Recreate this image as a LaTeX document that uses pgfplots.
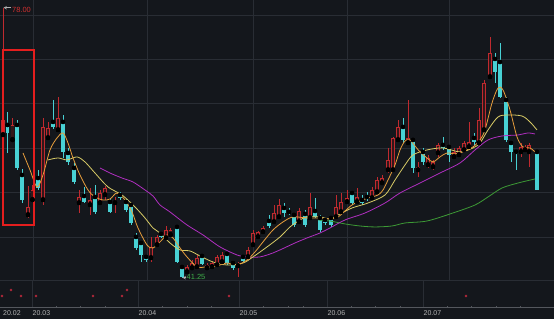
\documentclass[border=0pt]{standalone}
\usepackage{pgfplots}
\usepackage{pgfplotstable}
\pgfplotsset{compat=1.18}
\usepackage{fontspec}
\setmainfont{Liberation Sans}
\definecolor{bg}{HTML}{14171C}
\definecolor{gridc}{HTML}{292D34}
\definecolor{upc}{HTML}{C02A2F}
\definecolor{upin}{HTML}{331719}
\definecolor{dnc}{HTML}{48D1D4}
\definecolor{ma5}{HTML}{E89E3C}
\definecolor{ma10}{HTML}{D8CB66}
\definecolor{ma20}{HTML}{B02FC0}
\definecolor{ma60}{HTML}{3D9A35}
\definecolor{hilab}{HTML}{D23030}
\definecolor{lolab}{HTML}{3FB04A}
\definecolor{datec}{HTML}{B4B4B4}
\definecolor{boxred}{HTML}{E41E1E}
\definecolor{dotred}{HTML}{B0283A}

% x = position on the time axis, O H L C = open high low close
\pgfplotstableread{
x O H L C
3 60.72 78.00 60.04 62.76
12.5 60.04 63.03 59.77 62.08
28 49.83 53.77 49.42 50.92
32.5 51.87 53.91 51.60 53.23
43 51.87 63.03 51.19 61.81
48 60.31 62.49 60.04 61.67
58 61.40 65.89 61.13 63.03
79 51.46 53.23 50.10 52.28
90 51.19 53.50 49.83 51.87
100 51.46 53.23 51.19 52.82
105 52.55 53.77 51.87 53.50
115 51.46 52.28 50.10 51.73
151 43.98 46.84 43.43 45.48
157 45.75 47.11 45.48 46.84
166 46.70 48.33 46.43 47.79
170.5 47.11 48.06 46.84 47.79
187 42.07 43.02 41.80 42.75
192 42.61 43.70 42.34 43.29
197 42.75 44.39 42.61 43.98
207 42.61 43.29 42.34 43.02
212 42.75 43.57 42.61 43.29
217 43.02 44.39 42.88 44.12
222 43.43 44.80 43.29 44.39
238 42.88 43.43 41.39 43.16
248 44.12 45.48 43.70 45.07
253 45.75 47.79 45.48 47.38
258 46.84 47.65 46.70 47.52
263 47.52 48.33 47.25 48.06
274 48.88 51.19 48.74 50.10
279 49.56 52.00 49.42 51.19
299 48.88 50.78 48.74 50.37
310 49.42 52.82 49.29 50.92
336 49.56 52.55 49.42 50.92
341 50.24 52.82 50.10 51.60
347 51.60 53.23 51.46 52.14
357 51.60 53.50 51.46 52.28
372 52.14 53.64 51.87 53.23
377 52.96 55.00 52.82 54.59
382 54.18 55.27 53.91 54.86
388 55.95 58.95 55.54 57.32
393 55.95 60.45 55.68 60.31
398 60.04 62.76 59.77 61.81
408 59.63 65.48 59.36 60.31
418 55.95 57.05 55.00 56.37
428 56.64 58.00 56.23 57.59
433 56.37 57.32 55.95 57.05
438 58.27 59.63 57.73 59.36
454 57.73 58.95 57.59 58.41
459 58.00 59.22 57.73 58.95
464 58.68 59.90 58.41 59.63
469 59.09 62.49 58.95 59.77
479 59.63 64.39 59.36 62.76
484 61.40 68.20 61.13 67.79
490 68.61 74.06 68.47 71.88
521 58.41 59.63 57.73 59.09
525 58.68 59.36 58.41 59.09
529 58.41 59.63 56.37 59.36
}\upcandles

\pgfplotstableread{
x O H L C
7.5 62.08 63.85 58.27 60.99
17 62.08 62.76 55.95 56.23
22 55.27 56.10 51.46 51.87
38 54.86 55.95 53.23 53.50
53 62.49 65.48 61.54 61.81
63 62.49 63.44 57.59 58.41
68 58.27 58.95 56.64 57.05
74 56.23 56.91 54.05 54.32
84 52.41 53.64 51.46 51.60
95 52.28 53.91 49.97 50.24
110 51.60 52.14 50.10 50.24
120 52.55 52.96 51.87 52.14
126 51.60 52.00 50.24 50.51
131 51.19 51.46 48.47 48.74
136 46.84 47.38 45.07 45.34
141 46.02 46.16 43.43 44.39
146 44.12 44.39 43.43 43.70
161 47.25 47.38 46.70 46.84
177 48.20 48.33 43.29 43.43
182 42.75 43.02 41.25 41.39
202 44.25 44.53 43.02 43.16
227 44.53 44.80 43.02 43.29
233 43.29 43.43 42.34 42.61
243 44.12 44.25 43.43 43.57
269 49.01 49.83 48.06 48.33
284 50.78 51.46 49.56 50.10
289 50.24 50.78 49.83 50.10
294 49.83 50.10 48.20 48.47
305 49.97 50.51 48.20 48.47
315 50.37 52.14 49.42 49.56
320 49.42 49.83 47.52 47.79
325 49.15 49.42 48.47 48.74
331 49.42 49.56 48.20 48.47
352 52.82 52.96 51.19 51.46
362 51.87 52.55 51.19 51.46
367 52.28 52.96 51.73 52.00
403 61.81 63.03 59.63 60.04
413 60.04 60.31 55.54 56.23
423 58.41 58.95 56.64 57.05
443 59.36 60.45 58.68 58.95
449 59.09 59.36 57.05 58.00
474 60.31 60.99 59.36 59.77
495 71.06 71.88 67.79 69.29
500 70.65 73.24 65.75 65.89
506 65.48 65.89 59.77 60.04
511 59.63 59.77 57.05 58.41
516 58.41 58.68 55.95 58.14
537 58.41 58.68 53.23 53.23
}\downcandles

\begin{document}
\begin{tikzpicture}
\begin{axis}[
  scale only axis, width=554bp, height=319bp,
  xmin=0, xmax=554, ymin=35.67, ymax=79.09,
  axis lines=none,
  axis background/.style={fill=bg},
]
% horizontal grid
\draw[gridc, line width=0.7bp] (axis cs:0,77.05) -- (axis cs:554,77.05);
\draw[gridc, line width=0.7bp] (axis cs:0,71.06) -- (axis cs:554,71.06);
\draw[gridc, line width=0.7bp] (axis cs:0,65.07) -- (axis cs:554,65.07);
\draw[gridc, line width=0.7bp] (axis cs:0,58.95) -- (axis cs:554,58.95);
\draw[gridc, line width=0.7bp] (axis cs:0,52.96) -- (axis cs:554,52.96);
\draw[gridc, line width=0.7bp] (axis cs:0,46.84) -- (axis cs:554,46.84);
\draw[gridc, line width=0.7bp] (axis cs:0,40.98) -- (axis cs:554,40.98);
% vertical grid (price area)
\draw[gridc, line width=0.7bp] (axis cs:33,79.09) -- (axis cs:33,40.98);
\draw[gridc, line width=0.7bp] (axis cs:147,79.09) -- (axis cs:147,40.98);
\draw[gridc, line width=0.7bp] (axis cs:253,79.09) -- (axis cs:253,40.98);
\draw[gridc, line width=0.7bp] (axis cs:347,79.09) -- (axis cs:347,40.98);
\draw[gridc, line width=0.7bp] (axis cs:449,79.09) -- (axis cs:449,40.98);
% bottom strip
\draw[gridc, line width=0.7bp] (axis cs:32,40.98) -- (axis cs:32,37.2);
\draw[gridc, line width=0.7bp] (axis cs:138,40.98) -- (axis cs:138,37.2);
\draw[gridc, line width=0.7bp] (axis cs:239,40.98) -- (axis cs:239,37.2);
\draw[gridc, line width=0.7bp] (axis cs:327,40.98) -- (axis cs:327,37.2);
\draw[gridc, line width=0.7bp] (axis cs:423,40.98) -- (axis cs:423,37.2);
\draw[gridc!80!white, line width=0.7bp] (axis cs:0,37.31) -- (axis cs:554,37.31);
\draw[gridc!80!white, line width=0.5bp]
  (axis cs:56,37.31) -- (axis cs:56,37.5) (axis cs:80,37.31) -- (axis cs:80,37.5)
  (axis cs:105,37.31) -- (axis cs:105,37.5) (axis cs:162,37.31) -- (axis cs:162,37.5)
  (axis cs:187,37.31) -- (axis cs:187,37.5) (axis cs:211,37.31) -- (axis cs:211,37.5)
  (axis cs:263,37.31) -- (axis cs:263,37.5) (axis cs:288,37.31) -- (axis cs:288,37.5)
  (axis cs:303,37.31) -- (axis cs:303,37.5) (axis cs:351,37.31) -- (axis cs:351,37.5)
  (axis cs:375,37.31) -- (axis cs:375,37.5) (axis cs:400,37.31) -- (axis cs:400,37.5)
  (axis cs:447,37.31) -- (axis cs:447,37.5) (axis cs:471,37.31) -- (axis cs:471,37.5)
  (axis cs:496,37.31) -- (axis cs:496,37.5) (axis cs:520,37.31) -- (axis cs:520,37.5);

% wicks
\addplot[only marks, mark=none, forget plot,
  error bars/.cd, y dir=both, y explicit, error mark=none,
  error bar style={draw=upc, line width=0.8bp}]
  table[x=x, y=O, y error plus expr=\thisrow{H}-\thisrow{O}, y error minus expr=\thisrow{O}-\thisrow{L}] {\upcandles};
\addplot[only marks, mark=none, forget plot,
  error bars/.cd, y dir=both, y explicit, error mark=none,
  error bar style={draw=dnc, line width=0.8bp}]
  table[x=x, y=O, y error plus expr=\thisrow{H}-\thisrow{O}, y error minus expr=\thisrow{O}-\thisrow{L}] {\downcandles};
% bodies
\addplot[only marks, mark=none, forget plot,
  error bars/.cd, y dir=plus, y explicit, error mark=none,
  error bar style={draw=upc, line width=3.8bp}]
  table[x=x, y=O, y error plus expr=\thisrow{C}-\thisrow{O}] {\upcandles};
\addplot[only marks, mark=none, forget plot,
  error bars/.cd, y dir=plus, y explicit, error mark=none,
  error bar style={draw=upin, line width=2.2bp}]
  table[x=x, y expr=\thisrow{O}+0.11, y error plus expr={max(\thisrow{C}-\thisrow{O}-0.22,0)}] {\upcandles};
\addplot[only marks, mark=none, forget plot,
  error bars/.cd, y dir=minus, y explicit, error mark=none,
  error bar style={draw=dnc, line width=3.8bp}]
  table[x=x, y=O, y error minus expr=\thisrow{O}-\thisrow{C}] {\downcandles};

% moving averages
\addplot[ma60, line width=0.8bp, smooth, mark=none] coordinates {
(318,49.15)(330,49.01)(345,48.61)(360,48.33)(375,48.20)(392,48.33)(405,48.74)(427,49.01)(453,50.10)(475,51.19)(488,52.28)(502,53.50)(518,54.18)(535,54.73)};
\addplot[ma20, line width=0.8bp, smooth, mark=none] coordinates {
(100,56.23)(110,55.54)(122,54.86)(133,54.32)(145,53.23)(153,52.41)(160,51.19)(170,50.24)(187,48.47)(203,47.11)(220,45.48)(237,44.39)(247,44.12)(260,44.12)(273,44.66)(280,45.07)(295,46.02)(307,46.70)(320,47.38)(330,48.06)(345,49.15)(365,50.10)(385,51.46)(400,52.82)(420,54.18)(440,55.54)(460,56.91)(475,58.68)(488,60.04)(502,60.58)(518,60.72)(528,60.99)(535,60.85)};
\addplot[ma10, line width=0.8bp, smooth, mark=none] coordinates {
(48,57.32)(58,57.59)(67,57.32)(77,57.73)(85,57.05)(95,55.54)(108,53.64)(122,52.55)(135,50.92)(145,49.42)(153,48.06)(160,47.38)(170,46.02)(180,45.07)(190,44.93)(200,44.25)(213,43.43)(227,43.02)(243,43.29)(253,44.12)(267,45.48)(280,46.84)(290,48.20)(300,49.15)(307,49.56)(320,49.56)(330,49.29)(338,49.83)(352,50.78)(368,51.46)(385,52.55)(395,54.59)(405,56.64)(413,58.00)(427,58.68)(443,58.95)(460,58.41)(473,58.95)(480,59.63)(488,61.40)(498,63.17)(508,63.44)(522,63.30)(530,62.49)(537,61.40)};
\addplot[ma5, line width=0.8bp, smooth, mark=none] coordinates {
(23,58.27)(30,55.95)(37,53.64)(43,55.27)(50,58.68)(57,60.31)(63,60.99)(68,59.63)(73,57.59)(80,55.27)(88,53.23)(95,52.28)(103,51.87)(110,52.00)(117,52.82)(125,51.87)(132,50.24)(138,48.06)(147,45.75)(153,45.34)(160,46.16)(167,47.11)(173,46.70)(180,45.34)(187,44.12)(197,42.75)(205,42.75)(213,42.75)(220,43.02)(227,43.29)(237,43.02)(247,43.70)(255,44.80)(263,46.16)(273,47.79)(283,48.88)(293,49.56)(307,49.42)(320,49.42)(330,49.29)(338,49.56)(345,50.37)(352,51.19)(360,51.73)(368,52.14)(378,52.55)(383,53.23)(388,54.59)(395,56.64)(400,58.68)(405,59.90)(410,60.04)(415,59.22)(420,58.41)(427,57.59)(433,57.05)(440,57.73)(447,58.27)(455,58.14)(460,58.27)(467,58.68)(473,59.09)(480,60.04)(485,61.40)(492,65.07)(498,67.11)(503,66.84)(510,64.12)(517,60.45)(523,59.09)(530,58.95)(535,58.41)};

% signal dots in the lower strip
\addplot[only marks, mark=*, mark size=1.1bp, color=dotred, forget plot] coordinates {
(2,38.80)(11,39.62)(21,38.80)(36,38.80)(93,38.80)(122,38.80)(127,39.62)(229,38.80)(466,38.80)};

% high / low labels
\draw[datec, line width=0.5bp, ->, >=stealth] (axis cs:11,78.05) -- (axis cs:3.5,78.05);
\node[anchor=west, text=hilab, font=\fontsize{7.5}{8}\selectfont, inner sep=0pt] at (axis cs:12,77.7) {78.00};
\draw[datec, line width=0.5bp, ->, >=stealth] (axis cs:186,41.3) -- (axis cs:182.5,41.3);
\node[anchor=west, text=lolab, font=\fontsize{7.5}{8}\selectfont, inner sep=0pt] at (axis cs:186.5,41.35) {41.25};

% date labels
\node[anchor=west, text=datec, font=\fontsize{7}{8}\selectfont, inner sep=0pt] at (axis cs:3,36.45) {20.02};
\node[anchor=west, text=datec, font=\fontsize{7}{8}\selectfont, inner sep=0pt] at (axis cs:32.5,36.45) {20.03};
\node[anchor=west, text=datec, font=\fontsize{7}{8}\selectfont, inner sep=0pt] at (axis cs:138.5,36.45) {20.04};
\node[anchor=west, text=datec, font=\fontsize{7}{8}\selectfont, inner sep=0pt] at (axis cs:239.5,36.45) {20.05};
\node[anchor=west, text=datec, font=\fontsize{7}{8}\selectfont, inner sep=0pt] at (axis cs:327.5,36.45) {20.06};
\node[anchor=west, text=datec, font=\fontsize{7}{8}\selectfont, inner sep=0pt] at (axis cs:423.5,36.45) {20.07};

% highlight box
\draw[boxred, line width=1.8bp] (axis cs:3,72.29) rectangle (axis cs:34,48.47);
\end{axis}
\end{tikzpicture}
\end{document}
